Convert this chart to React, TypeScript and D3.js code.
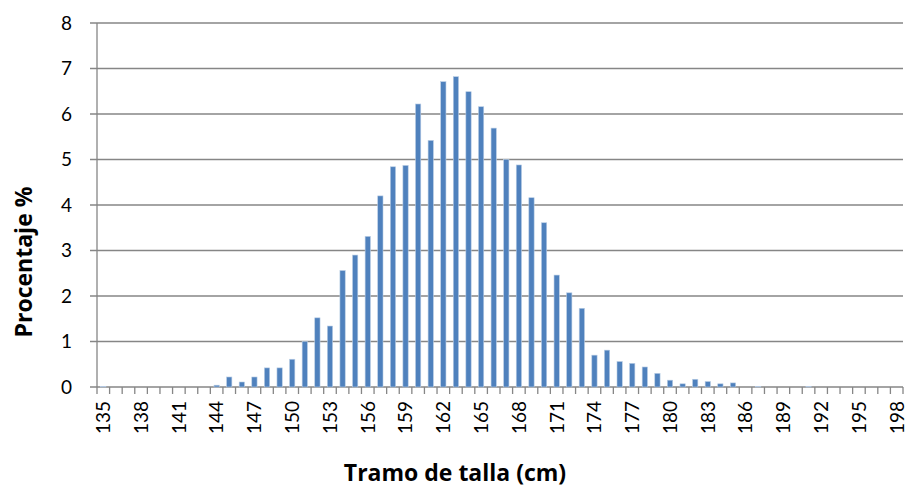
import React from "react";
import * as d3 from "d3";

const categories: number[] = d3.range(135, 199);
const values: number[] = [
  0.01, 0, 0, 0, 0, 0, 0, 0, 0, 0.04,
  0.22, 0.11, 0.22, 0.42, 0.42, 0.61, 1.0, 1.52, 1.34, 2.56,
  2.9, 3.31, 4.2, 4.84, 4.87, 6.22, 5.42, 6.71, 6.82, 6.49,
  6.16, 5.69, 5.0, 4.88, 4.16, 3.61, 2.46, 2.07, 1.73, 0.7,
  0.81, 0.56, 0.52, 0.44, 0.3, 0.15, 0.07, 0.17, 0.12, 0.07,
  0.09, 0, 0.01, 0, 0, 0, 0.01, 0, 0, 0,
  0, 0, 0, 0,
];
const yTicks: number[] = [0, 1, 2, 3, 4, 5, 6, 7, 8];
const xTitle = "Tramo de talla (cm)";
const yTitle = "Procentaje %";

const W = 907;
const H = 490;
const left = 97;
const right = 903;
const top = 23;
const bottom = 387;
const font = "Lato, 'Open Sans', sans-serif";
const titleFont = "'Open Sans', sans-serif";

export default function App() {
  const x = d3.scaleBand<number>().domain(categories).range([left, right]).paddingInner(0).paddingOuter(0);
  const y = d3.scaleLinear().domain([0, 8]).range([bottom, top]);
  const bw = x.bandwidth() * 0.42;
  const grid = "#868686";
  return (
    <svg width={W} height={H} style={{ position: "absolute", left: 0, top: 0 }}>
      <rect x={0} y={0} width={W} height={H} fill="#fff" />
      {yTicks.map((t) => (
        <g key={t}>
          <line x1={left - 7} x2={right} y1={y(t)} y2={y(t)} stroke={grid} strokeWidth={1.3} />
          <text x={left - 25} y={y(t)} dy="0.36em" textAnchor="end" fontFamily={font} fontSize={19} fill="#000">
            {t}
          </text>
        </g>
      ))}
      <line x1={left} x2={left} y1={top} y2={bottom} stroke={grid} strokeWidth={1.3} />
      {categories.map((c, i) => (
        <rect
          key={c}
          x={(x(c) as number) + (x.bandwidth() - bw) / 2}
          y={y(values[i])}
          width={bw}
          height={y(0) - y(values[i])}
          fill="#4F81BD"
          stroke="#B9CDE5"
          strokeWidth={0.6}
        />
      ))}
      {categories.map((c) => (
        <line key={"t" + c} x1={x(c) as number} x2={x(c) as number} y1={bottom} y2={bottom + 7} stroke={grid} strokeWidth={1.3} />
      ))}
      <line x1={right} x2={right} y1={bottom} y2={bottom + 7} stroke={grid} strokeWidth={1.3} />
      {categories.filter((c, i) => i % 3 === 0).map((c) => {
        const cx = (x(c) as number) + x.bandwidth() / 2;
        return (
          <text
            key={"l" + c}
            transform={`translate(${cx},${bottom + 14}) rotate(-90)`}
            textAnchor="end"
            dy="0.36em"
            fontFamily={font}
            fontSize={19}
            fill="#000"
          >
            {c}
          </text>
        );
      })}
      <text x={455} y={481} textAnchor="middle" fontFamily={titleFont} fontSize={23} fontWeight="bold" fill="#000">
        {xTitle}
      </text>
      <text
        transform={`translate(31.5,262) rotate(-90)`}
        textAnchor="middle"
        fontFamily={titleFont}
        fontSize={23}
        fontWeight="bold"
        fill="#000"
      >
        {yTitle}
      </text>
    </svg>
  );
}
